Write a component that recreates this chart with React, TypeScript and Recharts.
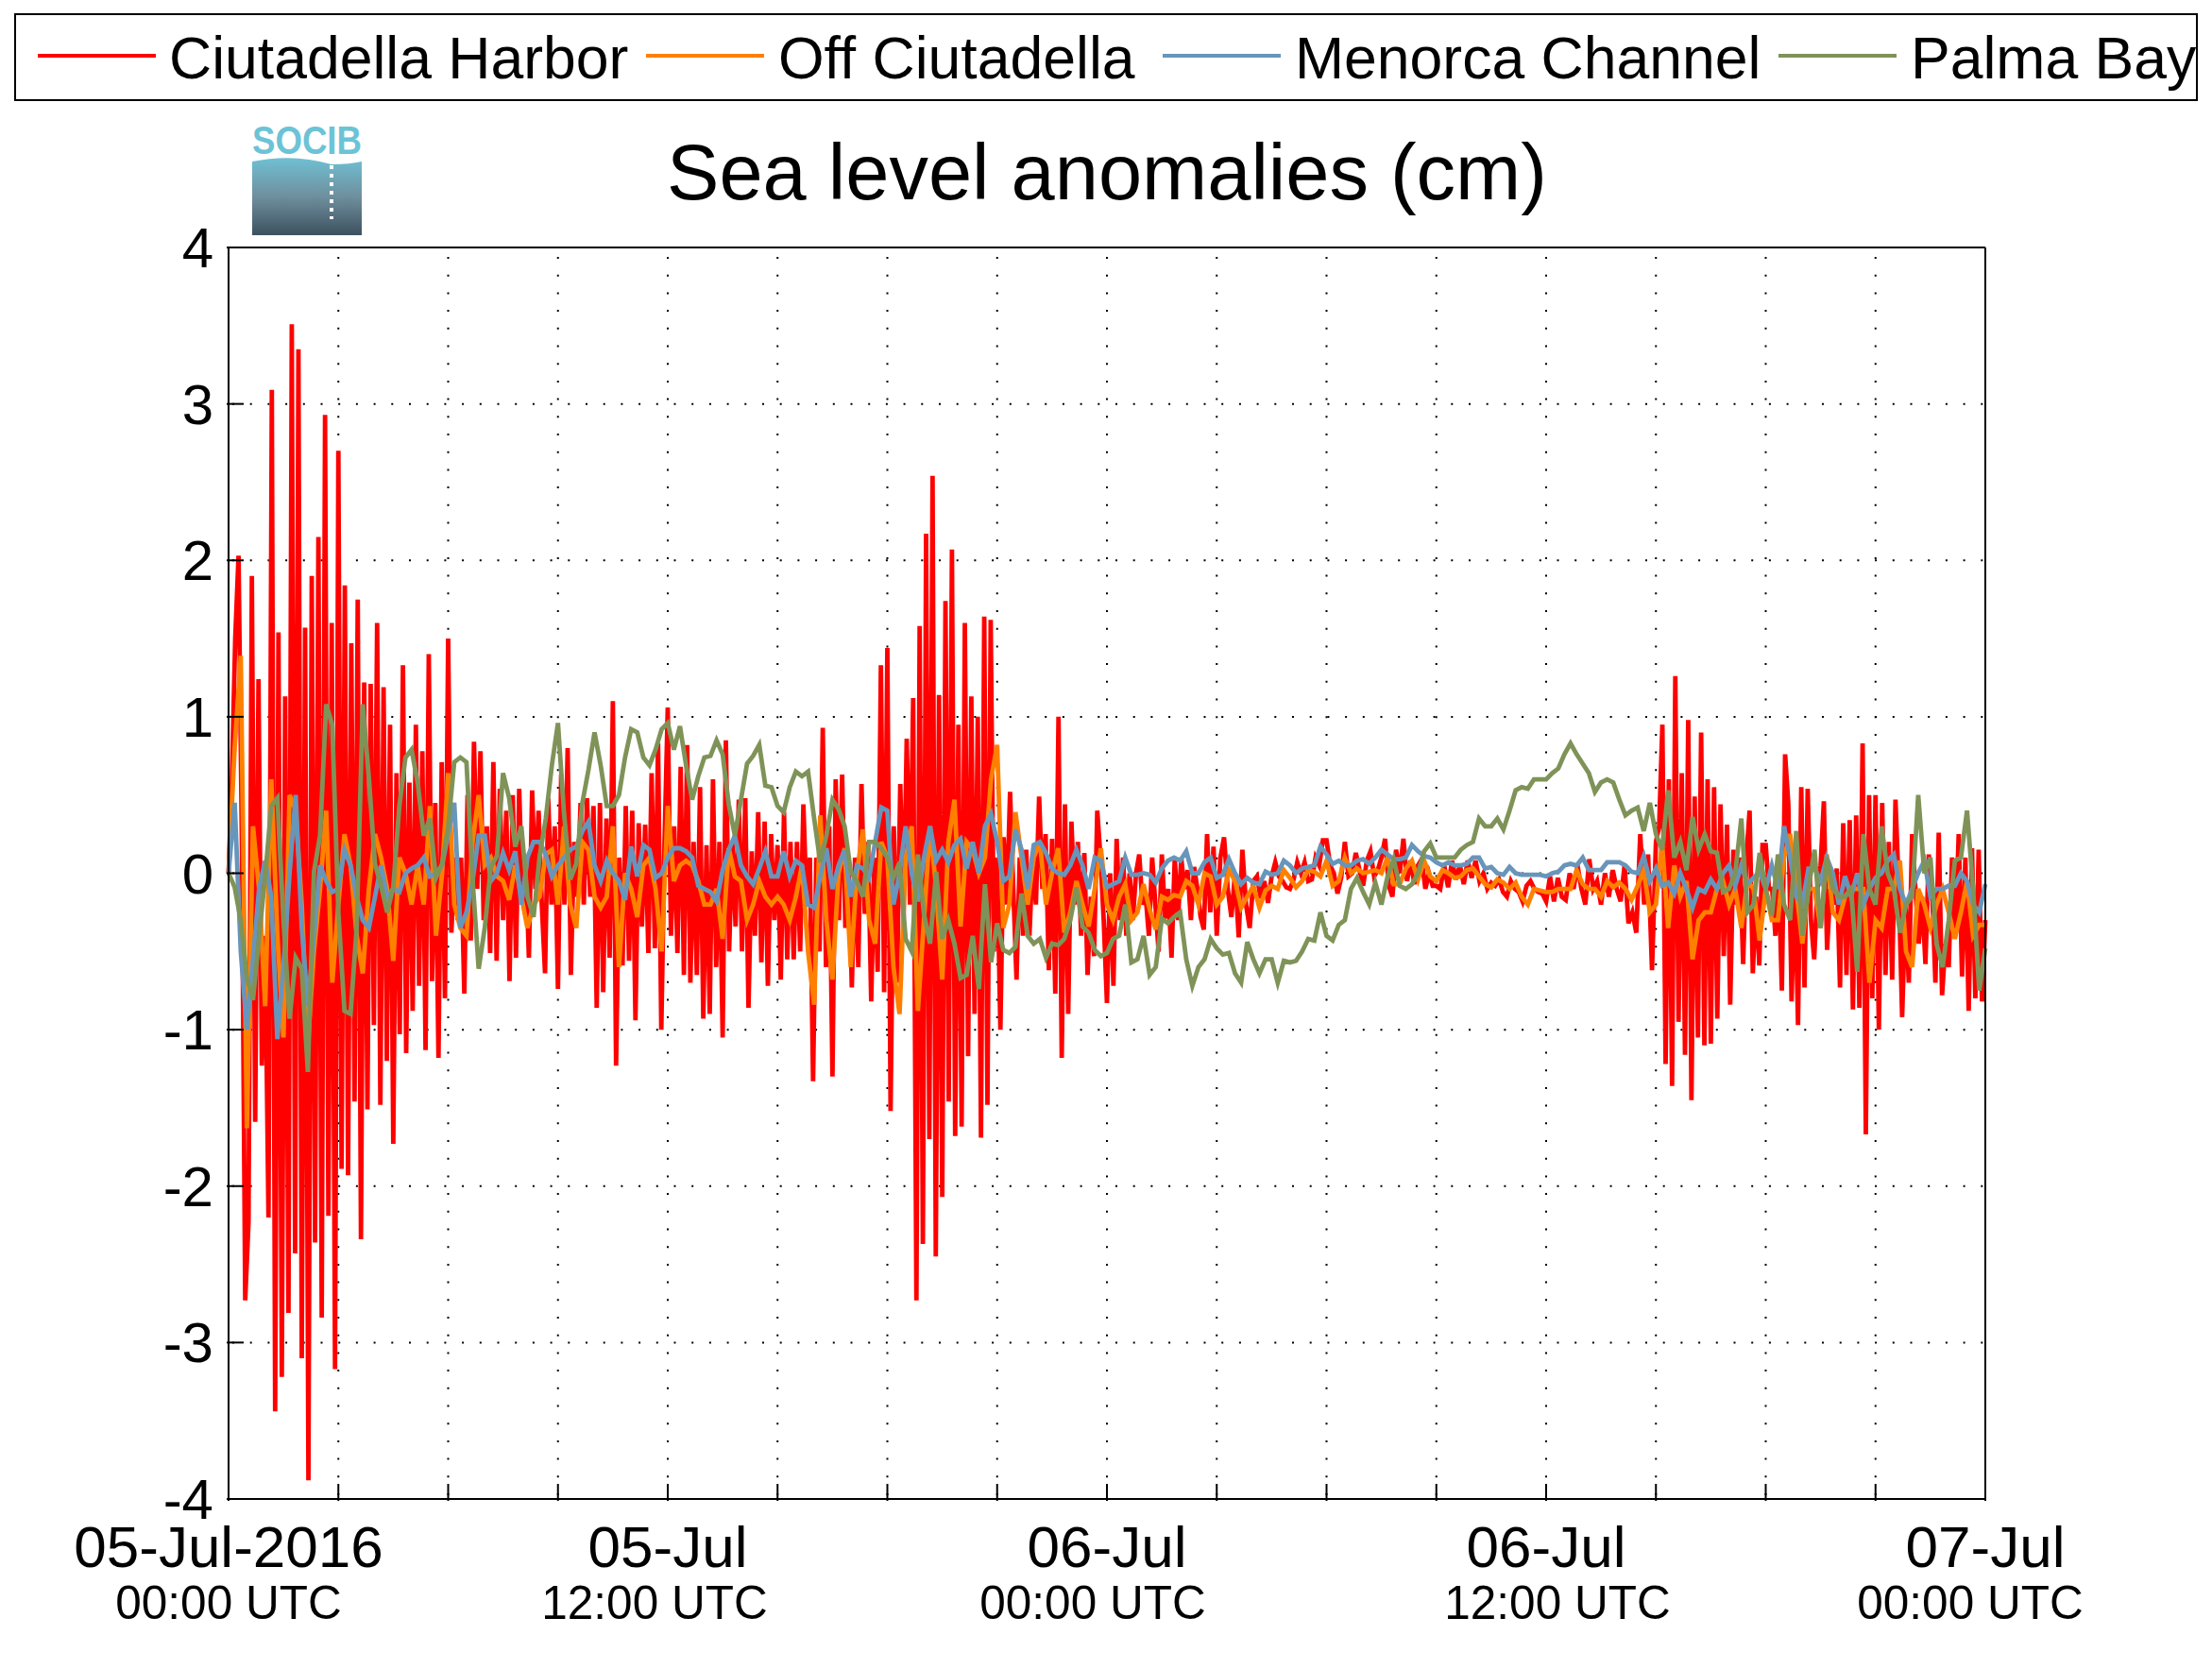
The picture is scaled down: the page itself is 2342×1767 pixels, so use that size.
import React from 'react';
import { LineChart, Line, XAxis, YAxis, CartesianGrid } from 'recharts';

// each inner list covers 3 hours; the lone last value sits at 48 h
const harborValues = [
    [0, .6, 1.5, 2.03, .2, -2.73, -2.23, 1.9, -1.59, 1.24, -1.23, -.4, -2.2, 3.09, -3.44, 1.54, -3.22, 1.13, -2.81, 3.51, -2.43, 3.35, -3.1, 1.57, -3.88, 1.9, -2.36, 2.15, -2.84, 2.93, -2.19, 1.6, -3.17],
    [2.7, -1.89, 1.84, -1.93, 1.47, -1.46, 1.75, -2.34, 1.22, -1.51, 1.21, -.97, 1.6, -1.48, 1.19, -1.2, .95, -1.73, .64, -1.03, 1.33, -1.15, .58, -.88, .95, -.72, .78, -1.13, 1.4, -.69, .45, -1.18, .71, -.8],
    [1.5, -.38, .1, -.3, .1, -.77, .5, -.43, .84, -.1, .78, -.3, .3, -.51, .71, -.56, .54, -.3, .4, -.69, .5, -.54, .54, -.2, .1, -.54, .53, -.1, .4, -.2, -.64, .48, -.2, .3],
    [-.74, .63, -.2, .8, -.65, .2, -.15, .45, -.2, .48, -.15, .43, -.86, .45, -.76, .35, -.54, 1.1, -1.23, .1, -.59, .43, -.56, .4, -.94, .32, -.34, .31, -.51, .64, -.48, .83, -1.0, .2],
    [1.06, -.4, .3, -.51, .68, -.65, .82, -.7, .2, -.65, .55, -.93, .18, -.9, .6, -.6, .2, -1.05, .85, -.5, .2, -.34, .47, -.5, .48, -.86, .14, -.4, .39, -.57, .33, -.72, .25, -.3],
    [.18, -.68, .39, -.55, .2, -.55, .2, -.5, .44, -.2, .1, -1.33, .1, -.5, .93, -.6, .3, -1.3, .6, -.3, .63, -.35, .1, -.73, .1, -.6, .57, -.26, .2, -.82, .1, -.63, 1.33, -.76],
    [1.44, -1.52, .3, -.7, .57, -.3, .86, -.2, 1.12, -2.73, 1.58, -2.37, 2.17, -1.7, 2.54, -2.45, 1.14, -2.07, 1.74, -1.46, 2.07, -1.68, .95, -1.62, 1.6, -1.17, 1.13, -.9, 1.0, -1.69, 1.64, -1.48, 1.62, -.5],
    [.1, -1.0, .23, -.2, .52, -.1, -.68, .1, -.4, .15, -.4, .1, -.2, .49, -.1, .25, -.62, .22, -.77, 1.0, -1.18, .44, -.9, .33, -.2, .2, -.4, .13, -.65, -.15, -.53, .4, .1, -.3],
    [-.83, 0, -.72, .22, -.3, .1, -.4, 0, -.3, 0, .12, -.2, -.15, -.4, .1, -.2, -.5, .12, -.29, -.1, -.54, .1, -.3, .1, -.1, .02, -.3, .04, -.1, -.28, -.36, .25, -.25, .17],
    [-.4, .1, .23, -.1, -.28, 0, -.41, .15, -.2, -.35, -.05, -.02, -.16, -.05, -.19, -.02, .07, -.02, -.05, -.09, -.1, -.04, .07, 0, .07, -.05, -.04, .1, .05, .21],
    [.21, .05, 0, -.13, -.03, .2, -.02, 0, .13, .02, -.08, .08, .14, -.02, .02, .1, .22, -.08, -.15, .15, 0, .22, -.05, .08, -.07, .05, .09, -.1, 0, -.08],
    [-.08, -.1, .05, -.09, .08, -.04, .05, -.07, .08, -.03, .08, -.05, 0, -.1, -.06, -.08, -.04, -.12, -.15, -.05, -.1, -.12, -.18, -.08, -.05, -.1, -.12, -.13],
    [-.18, -.02, -.18, -.03, -.15, -.17, 0, -.1, .05, -.1, -.2, .09, -.1, -.05, -.2, 0, -.15, .02, -.1, -.18, .05, -.32, -.25, -.38, .25, -.2, .12, -.62],
    [.2, .3, .95, -1.22, .6, -1.36, 1.26, -.95, .64, -1.16, .98, -1.45, .49, -1.05, .9, -1.1, .6, -1.09, .55, -.93, .44, -.53, .31, -.84, .15, -.2, .1, -.58, .1, .4, -.64, -.15, -.59, .18],
    [.18, -.1, -.1, -.4, 0, -.75, .76, .44, -.82, 0, -.97, .55, -.73, .54, -.3, -.55, -.1, .05, .46, -.49, -.1, -.2, .03, -.73, .32, -.65, .34, -.87, .37, -.86, .83, -1.67, .5, -.8],
    [.5, -1.0, .45, -.65, .2, -.68, .47, -.1, -.92, -.2, -.7, .25, -.1, -.45, -.15, -.58, .12, -.1, -.7, .26, -.78, -.45, -.6, .1, -.4, .25, -.66, .1, -.88, .16, -.8, .15, -.82],
    [-.3],
];

const offshoreValues = [
    [0, .8, 1.39, -1.63, .3, -.1, -.85, .6, -.4, -1.05, .5, .4, -.2, -1.1, -.5, -.1, .4, -.7],
    [-.2, .25, .05, -.4, -.64, -.1, .25, .1, -.1, -.56, .1, 0, -.2, .05, -.2, .43, -.4, 0],
    [.64, -.2, -.35, -.4, .2, .5, .05, .1, -.02, -.05, -.17, .05, -.15, -.35, -.2, -.15, .12, .15],
    [-.2, .3, -.2, -.35, .2, .15, -.15, -.22, -.15, .3, -.6, 0, -.1, -.28, .05, .1, -.1, -.5],
    [.43, -.05, .05, .08, .05, -.05, -.2, -.2, -.1, -.42, .16, -.02, -.05, -.3, -.2, -.05, -.15, -.2],
    [-.15, -.2, -.3, -.15, .05, -.5, -.84, .37, -.3, -.68, 0, .16, -.6, 0, .28, -.3, -.45, .2],
    [.1, -.6, -.9, .1, .3, -.88, -.3, .3, -.1, -.68, .2, .47, -.34, .2, .15, 0, .1, .6],
    [.82, -.35, -.2, .39, .1, -.2, .1, .2, -.2, 0, .16, -.38, -.25, -.05, -.2, -.34, -.1, .16],
    [-.2, -.3, -.15, -.07, -.3, -.25, -.07, -.23, -.36, -.15, -.17, -.14, -.15, -.05, -.08, -.2, 0, -.02],
    [-.2, -.15, .02, -.05, -.22, -.15, -.08, -.22, -.11, -.08, -.1, .02, -.03, -.09, -.05, .02, .01, -.02],
    [.08, -.08, -.05, .1, 0, .03, 0, .01, .02, 0, .1, -.07, -.07, .03, .08, -.04, .08, -.02],
    [-.05, .02, 0, -.03, -.02, .02, .03, -.02, -.07, -.09, -.04, -.06, -.1, -.06, -.15, -.2, -.1, -.11],
    [-.12, -.12, -.1, -.1, -.1, .02, -.07, -.1, -.1, -.15, -.05, -.09, -.06, -.1, -.17, -.08, .02, -.25],
    [-.2, .2, -.35, .05, -.15, -.05, -.55, -.3, -.25, -.25, -.1, -.05, -.2, -.1, -.35, -.05, -.1, -.43],
    [-.1, -.3, -.3, .1, .25, -.1, -.45, -.1, -.1, -.35, .12, -.25, -.3, -.15, -.1, -.1, -.1, -.7],
    [-.3, -.35, -.1, -.1, .08, -.5, -.6, -.1, -.2, -.35, -.2, -.1, -.25, -.42, -.25, -.05, -.4, -.33],
    [-.33],
];

const channelValues = [
    [0, .45, -.5, -1.0, -.55, -.1, .08, -.15, -1.06, -.6, 0, .5, -.35, -.85, -.4, .05, -.05, -.12],
    [-.1, .15, .05, -.15, -.3, -.35, -.15, .05, -.15, -.1, -.12, 0, .03, .05, .1, -.02, 0, .05],
    [.25, .45, -.35, -.25, -.05, .24, .24, -.05, 0, .13, .02, .14, -.2, .1, .2, .2, .12, -.02],
    [.05, .1, .15, .17, .27, .33, .05, -.05, .08, 0, -.05, -.17, .17, -.02, .18, .15, -.03, 0],
    [.1, .16, .16, .14, .1, -.08, -.1, -.12, -.18, .02, .15, .24, .05, -.02, -.07, .03, .14, -.02],
    [-.02, .14, -.02, .08, .05, -.2, -.22, -.02, .16, -.1, .05, .15, -.15, .05, .03, -.03, .2, .42],
    [.4, -.2, 0, .3, 0, -.18, .1, .3, .08, .15, .07, .18, .22, .03, .2, 0, .3, .38],
    [.2, -.05, -.02, .28, .15, -.1, .18, .2, .13, .03, 0, -.01, .05, .15, .05, -.1, .1, .08],
    [-.09, -.07, -.05, .1, -.01, -.01, 0, -.01, -.06, .03, .08, .1, .08, .14, 0, 0, .07, .1],
    [-.03, -.01, .09, 0, -.07, -.03, -.06, -.07, .01, -.01, 0, .08, .05, 0, .03, .04, .05, .17],
    [.12, .06, .08, .05, .05, .08, .09, .06, .1, .15, .12, .09, .09, .1, .18, .14, .11, .1],
    [.07, .05, .07, .05, .05, .06, .1, .1, .03, .04, 0, -.01, .04, 0, -.01, -.01, -.01, -.01],
    [-.02, 0, .01, .05, .06, .05, .1, .02, .02, .02, .07, .07, .07, .05, .01, 0, .11, -.05],
    [.03, -.08, -.06, -.13, 0, -.1, -.22, -.1, -.12, -.04, -.1, 0, .05, -.08, .05, -.07, -.03, .01],
    [-.1, .05, -.1, .3, .1, -.15, -.2, .03, .03, -.05, .1, 0, -.2, -.02, -.15, 0, -.2, -.1],
    [-.03, 0, .08, .12, -.1, -.2, -.1, 0, .08, -.15, -.1, -.1, -.08, -.08, 0, -.05, -.2, -.25],
    [-.07],
];

const palmaValues = [
    [0, -.09, -.3, -.67, -.81, -.41, -.02, .43, .48, -.3, -.93, -.54, -.61, -1.27, .01, .24, 1.08, .95],
    [-.25, -.88, -.9, -.35, 1.08, .61, .06, -.08, -.25, -.09, .43, .74, .79, .58, .24, .35, -.03, .06],
    [.3, .71, .74, .71, -.04, -.61, -.35, .04, .11, .64, .48, .17, .3, -.15, -.28, .11, .35, .69],
    [.96, .38, -.04, .06, .45, .66, .9, .69, .43, .43, .5, .74, .92, .9, .74, .69, .79, .92],
    [.96, .79, .94, .69, .47, .62, .74, .75, .85, .76, .44, .24, .47, .7, .75, .82, .56, .55],
    [.43, .39, .55, .65, .62, .65, .35, .07, .24, .47, .41, .3, .01, -.05, -.15, .2, .2, .16],
    [.1, -.03, .07, -.42, -.5, .12, -.26, -.45, .01, -.42, -.3, -.45, -.67, -.65, -.4, -.74, -.07, -.57],
    [-.32, -.49, -.51, -.47, -.13, -.4, -.45, -.42, -.54, -.45, -.46, -.42, -.3, -.09, -.34, -.38, -.49, -.53],
    [-.51, -.42, -.4, -.2, -.57, -.55, -.4, -.65, -.6, -.29, -.32, -.28, -.25, -.55, -.72, -.6, -.55, -.42],
    [-.48, -.52, -.51, -.64, -.7, -.44, -.55, -.64, -.55, -.55, -.7, -.56, -.57, -.56, -.5, -.42, -.43, -.25],
    [-.4, -.43, -.33, -.3, -.1, -.03, -.12, -.2, -.06, -.2, -.02, .09, -.08, -.1, -.07, 0, .14, .19],
    [.1, .1, .1, .1, .15, .18, .2, .35, .3, .3, .35, .28, .4, .53, .55, .54, .6, .6],
    [.6, .64, .67, .76, .83, .76, .7, .64, .52, .58, .6, .58, .47, .37, .4, .42, .27, .45],
    [.25, .15, .53, .1, .2, .02, .36, .15, .25, .14, .13, -.12, -.1, 0, .35, -.25, -.2, .13],
    [-.1, -.27, .12, -.2, -.3, .27, -.4, -.1, .15, -.35, .1, -.1, -.15, -.15, -.1, -.63, .25, -.1],
    [-.2, .3, 0, -.1, -.38, -.2, -.15, .5, 0, .1, -.45, -.6, -.3, .08, .1, .4, -.1, -.75],
    [-.48],
];

const seriesNames = ['Ciutadella Harbor', 'Off Ciutadella', 'Menorca Channel', 'Palma Bay'];
const seriesColors = ['#ff0000', '#ff8000', '#6895ba', '#7f9358'];

const hourTicks = [0, 3, 6, 9, 12, 15, 18, 21, 24, 27, 30, 33, 36, 39, 42, 45, 48];
const labelledHours = [0, 12, 24, 36, 48];
const dateLabels = ['05-Jul-2016', '05-Jul', '06-Jul', '06-Jul', '07-Jul'];
const timeLabels = ['00:00 UTC', '12:00 UTC', '00:00 UTC', '12:00 UTC', '00:00 UTC'];
const timeLabelShift = [0, -14, -15, 12, -16];
const levelTicks = [-4, -3, -2, -1, 0, 1, 2, 3, 4];

const FONT = '"Liberation Sans", Arial, sans-serif';
const TICK_LEN = 18;
const legendLineLeft = [23, 667, 1214, 1866];
const legendTextLeft = [162, 807, 1354, 2006];

const toPoints = (chunks: number[][]) =>
    chunks.flatMap((chunk, c) => chunk.map((value, i) => ({ hour: (c + i / chunk.length) * 3, value })));

const allSeries = [harborValues, offshoreValues, channelValues, palmaValues].map(toPoints);

function BottomTick({ x, y, payload }: any) {
    const idx = labelledHours.indexOf(payload.value);
    return (
        <g>
            <line x1={x} x2={x} y1={y} y2={y - TICK_LEN} stroke="#000" strokeWidth={2} />
            {idx >= 0 && (
                <>
                    <text x={x} y={y + 70} textAnchor="middle" fontSize={62} fontFamily={FONT} fill="#000">
                        {dateLabels[idx]}
                    </text>
                    <text x={x + timeLabelShift[idx]} y={y + 125} textAnchor="middle" fontSize={49.5} fontFamily={FONT} fill="#000">
                        {timeLabels[idx]}
                    </text>
                </>
            )}
        </g>
    );
}

function TopTick({ x, y }: any) {
    return <line x1={x} x2={x} y1={y} y2={y + TICK_LEN} stroke="#000" strokeWidth={2} />;
}

function LeftTick({ x, y, payload }: any) {
    return (
        <g>
            <line x1={x} x2={x + TICK_LEN} y1={y} y2={y} stroke="#000" strokeWidth={2} />
            <text x={x - 14} y={y + 21} textAnchor="end" fontSize={60} fontFamily={FONT} fill="#000">
                {payload.value}
            </text>
        </g>
    );
}

function RightTick({ x, y }: any) {
    return <line x1={x} x2={x - TICK_LEN} y1={y} y2={y} stroke="#000" strokeWidth={2} />;
}

function Logo() {
    return (
        <g>
            <defs>
                <linearGradient id="socibWater" x1="0" y1="0" x2="0" y2="1">
                    <stop offset="0" stopColor="#6fc0d3" />
                    <stop offset="0.5" stopColor="#6f8f9d" />
                    <stop offset="1" stopColor="#3d5160" />
                </linearGradient>
            </defs>
            <text x={267} y={163} fontSize={42} fontWeight="bold" fontFamily={FONT} fill="#6cc3d6" textLength={116} lengthAdjust="spacingAndGlyphs">
                SOCIB
            </text>
            <path d="M267 171 Q310 162 351 174 Q370 174 383 171 L383 249 L267 249 Z" fill="url(#socibWater)" />
            <line x1={351} x2={351} y1={175} y2={232} stroke="#fff" strokeWidth={4} strokeDasharray="4 5" />
        </g>
    );
}

export default function App() {
    return (
        <div style={{ position: 'absolute', left: 0, top: 0, width: 2342, height: 1767, background: '#fff' }}>
            <LineChart width={2342} height={1767} margin={{ top: 261, right: 239, bottom: 0, left: 142 }}>
                <CartesianGrid stroke="#000" strokeWidth={2} strokeDasharray="2 16.7" strokeDashoffset={-4} vertical={false} />
                <CartesianGrid stroke="#000" strokeWidth={2} strokeDasharray="2 16.7" strokeDashoffset={-10} horizontal={false} />
                <XAxis
                    dataKey="hour"
                    type="number"
                    domain={[0, 48]}
                    ticks={hourTicks}
                    height={180}
                    interval={0}
                    tickSize={0}
                    tickLine={false}
                    tick={<BottomTick />}
                    axisLine={{ stroke: '#000', strokeWidth: 2 }}
                />
                <XAxis
                    xAxisId="top"
                    orientation="top"
                    dataKey="hour"
                    type="number"
                    domain={[0, 48]}
                    ticks={hourTicks}
                    height={1}
                    interval={0}
                    tickSize={0}
                    tickLine={false}
                    tick={<TopTick />}
                    axisLine={{ stroke: '#000', strokeWidth: 2 }}
                />
                <YAxis
                    type="number"
                    domain={[-4, 4]}
                    ticks={levelTicks}
                    width={100}
                    interval={0}
                    tickSize={0}
                    tickLine={false}
                    tick={<LeftTick />}
                    axisLine={{ stroke: '#000', strokeWidth: 2 }}
                />
                <YAxis
                    yAxisId="right"
                    orientation="right"
                    type="number"
                    domain={[-4, 4]}
                    ticks={levelTicks}
                    width={1}
                    interval={0}
                    tickSize={0}
                    tickLine={false}
                    tick={<RightTick />}
                    axisLine={{ stroke: '#000', strokeWidth: 2 }}
                />
                {allSeries.map((points, i) => (
                    <Line
                        key={seriesNames[i]}
                        data={points}
                        dataKey="value"
                        name={seriesNames[i]}
                        type="linear"
                        stroke={seriesColors[i]}
                        strokeWidth={4.8}
                        dot={false}
                        isAnimationActive={false}
                    />
                ))}
                <text x={1172} y={211} textAnchor="middle" fontSize={83} fontFamily={FONT} fill="#000">
                    Sea level anomalies (cm)
                </text>
                <Logo />
            </LineChart>
            <div
                style={{
                    position: 'absolute',
                    left: 15,
                    top: 14,
                    width: 2312,
                    height: 93,
                    boxSizing: 'border-box',
                    border: '2.5px solid #000',
                    fontFamily: FONT,
                    fontSize: 62.5,
                    color: '#000',
                }}
            >
                {seriesNames.map((name, i) => (
                    <div key={name}>
                        <div
                            style={{
                                position: 'absolute',
                                left: legendLineLeft[i],
                                top: 41,
                                width: 125,
                                height: 4,
                                background: seriesColors[i],
                            }}
                        />
                        <div
                            style={{
                                position: 'absolute',
                                left: legendTextLeft[i],
                                top: 7,
                                lineHeight: '76px',
                                whiteSpace: 'nowrap',
                            }}
                        >
                            {name}
                        </div>
                    </div>
                ))}
            </div>
        </div>
    );
}
